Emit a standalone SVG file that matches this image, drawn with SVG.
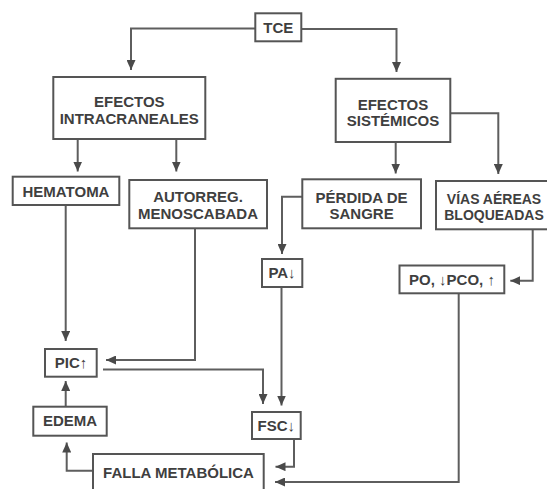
<svg xmlns="http://www.w3.org/2000/svg" width="547" height="489" viewBox="0 0 547 489">
<style>
.box{fill:#fff;stroke:#555;stroke-width:2}
.t{font-family:"Liberation Sans",Arial,sans-serif;font-weight:bold;font-size:15px;fill:#3f3f3f;text-anchor:middle}
.c{fill:none;stroke:#5e5e5e;stroke-width:2;marker-end:url(#ah)}
</style>
<defs>
<marker id="ah" markerUnits="userSpaceOnUse" markerWidth="11" markerHeight="9" refX="10" refY="4.5" orient="auto">
<path d="M0,0 L10,4.5 L0,9 z" fill="#4a4a4a"/>
</marker>
</defs>
<rect width="547" height="489" fill="#fff"/>
<g id="connectors">
<path class="c" d="M255,28.5 H131 V70"/>
<path class="c" d="M301,29 H396.5 V72"/>
<path class="c" d="M77.7,139 V171.5"/>
<path class="c" d="M176.3,139 V171.5"/>
<path class="c" d="M395.7,142 V173.5"/>
<path class="c" d="M450,113.3 H498.3 V174"/>
<path class="c" d="M302,196.7 H282 V254"/>
<path class="c" d="M532.7,229.3 V280.7 H510.3"/>
<path class="c" d="M65.7,205 V341"/>
<path class="c" d="M195,228.3 V360 H106"/>
<path class="c" d="M103,369.5 H263 V404"/>
<path class="c" d="M281.5,287 V405.5"/>
<path class="c" d="M294,439 V466.7 H275.5"/>
<path class="c" d="M458.7,293.3 V482 H275"/>
<path class="c" d="M93,470.7 H66.7 V442.5"/>
<path class="c" d="M65.7,406.7 V381"/>
</g>
<g id="tce"><rect class="box" x="255.3" y="13.3" width="46" height="28"/><text class="t" x="278.3" y="33">TCE</text></g>
<g id="intracraneales"><rect class="box" x="53.3" y="77" width="152" height="62"/><text class="t" x="129.3" y="107">EFECTOS</text><text class="t" x="129.3" y="124">INTRACRANEALES</text></g>
<g id="sistemicos"><rect class="box" x="335.7" y="78.8" width="114.6" height="63.2"/><text class="t" x="393" y="109.5">EFECTOS</text><text class="t" x="393" y="126.3">SISTÉMICOS</text></g>
<g id="hematoma"><rect class="box" x="12.7" y="176.7" width="106.6" height="28.3"/><text class="t" x="66" y="197">HEMATOMA</text></g>
<g id="autorreg"><rect class="box" x="129.3" y="180" width="137.7" height="48.3"/><text class="t" x="198" y="202">AUTORREG.</text><text class="t" x="198" y="218.6">MENOSCABADA</text></g>
<g id="perdida"><rect class="box" x="302.3" y="179.3" width="118.7" height="49"/><text class="t" x="361.6" y="202.6">PÉRDIDA DE</text><text class="t" x="361.6" y="219.3">SANGRE</text></g>
<g id="vias"><rect class="box" x="436" y="181" width="124" height="48.3"/><text class="t" x="494" y="203.6" style="font-size:14px">VÍAS AÉREAS</text><text class="t" x="494" y="220.3" style="font-size:14px">BLOQUEADAS</text></g>
<g id="pa"><rect class="box" x="262" y="259" width="40.3" height="28"/><text class="t" x="282" y="278.3">PA↓</text></g>
<g id="po"><rect class="box" x="399.5" y="265.5" width="104.8" height="27.8"/><text class="t" x="452" y="284.8">PO, ↓PCO, ↑</text></g>
<g id="pic"><rect class="box" x="45" y="349" width="51.7" height="27.7"/><text class="t" x="71" y="368.3">PIC↑</text></g>
<g id="edema"><rect class="box" x="33.3" y="406.7" width="73.4" height="29"/><text class="t" x="70" y="426.3">EDEMA</text></g>
<g id="fsc"><rect class="box" x="252" y="412" width="48.7" height="27"/><text class="t" x="276.3" y="430.8">FSC↓</text></g>
<g id="falla"><rect class="box" x="93" y="454" width="170.7" height="45"/><text class="t" x="178.5" y="478.3">FALLA METABÓLICA</text></g>
</svg>
